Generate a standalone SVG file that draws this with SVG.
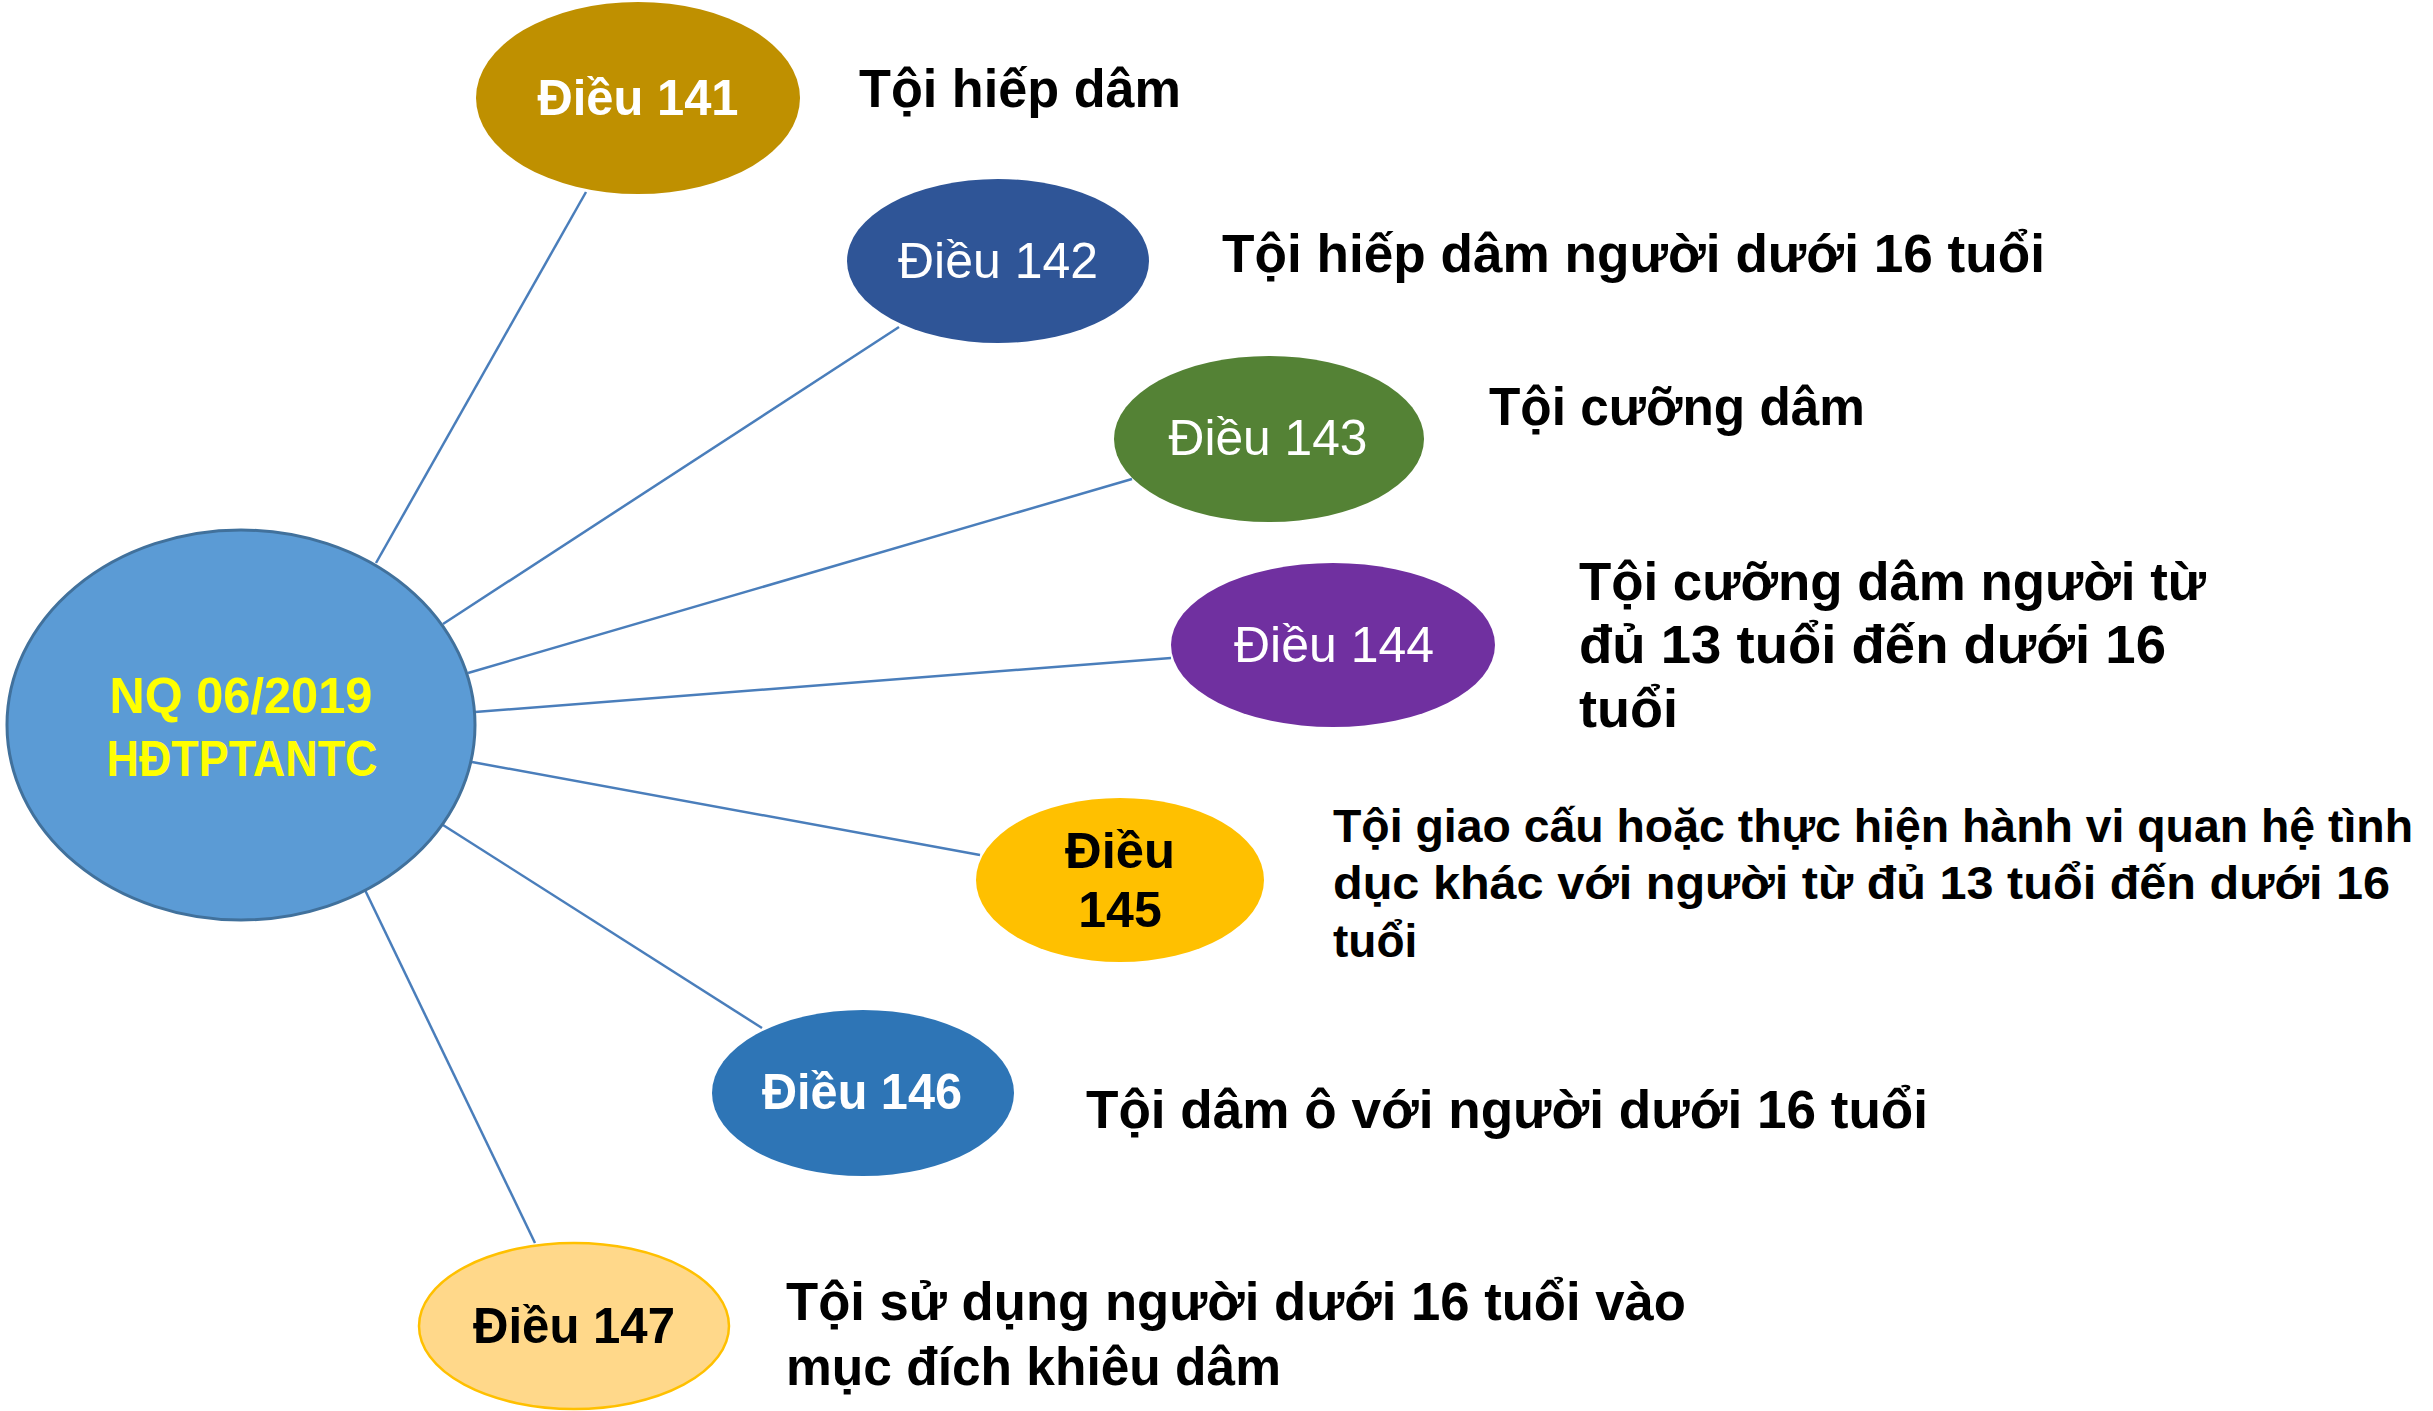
<svg xmlns="http://www.w3.org/2000/svg" width="2433" height="1411" viewBox="0 0 2433 1411">
<style>
.lbl{font-family:"Liberation Sans","Noto Sans",sans-serif;font-weight:bold;font-size:54px;fill:#000}
.lbl2{font-family:"Liberation Sans","Noto Sans",sans-serif;font-weight:bold;font-size:46px;fill:#000}
.nt{font-family:"Liberation Sans","Noto Sans",sans-serif;font-size:50px;text-anchor:middle}
.b{font-weight:bold}
.w{fill:#fff}
.k{fill:#000}
.conn line{stroke:#4A7EBB;stroke-width:2.5}
</style>
<rect width="2433" height="1411" fill="#fff"/>
<g id="connectors" class="conn">
<line x1="376" y1="563" x2="586" y2="192"/>
<line x1="443" y1="624" x2="899" y2="327"/>
<line x1="468" y1="673" x2="1132" y2="479"/>
<line x1="475" y1="712" x2="1171" y2="658"/>
<line x1="472" y1="762" x2="980" y2="855"/>
<line x1="443" y1="825" x2="762" y2="1028"/>
<line x1="365" y1="890" x2="535" y2="1243"/>
</g>
<g id="center">
<ellipse cx="241" cy="725" rx="234" ry="195" fill="#5B9BD5" stroke="#41719C" stroke-width="3"/>
<text x="241" y="713" text-anchor="middle" font-family="Liberation Sans, Noto Sans, sans-serif" font-weight="bold" font-size="50" fill="#FFFF00" textLength="263" lengthAdjust="spacingAndGlyphs">NQ 06/2019</text>
<text x="242" y="776" text-anchor="middle" font-family="Liberation Sans, Noto Sans, sans-serif" font-weight="bold" font-size="50" fill="#FFFF00" textLength="271" lengthAdjust="spacingAndGlyphs">HĐTPTANTC</text>
</g>
<g id="n141">
<ellipse cx="638" cy="98" rx="162" ry="96" fill="#BF9000"/>
<text class="nt b w" x="638" y="115" textLength="201" lengthAdjust="spacingAndGlyphs">Điều 141</text>
<text class="lbl" x="859" y="107" textLength="322" lengthAdjust="spacingAndGlyphs">Tội hiếp dâm</text>
</g>
<g id="n142">
<ellipse cx="998" cy="261" rx="151" ry="82" fill="#2F5597"/>
<text class="nt w" x="998" y="278" textLength="200" lengthAdjust="spacingAndGlyphs">Điều 142</text>
<text class="lbl" x="1222" y="272" textLength="823" lengthAdjust="spacingAndGlyphs">Tội hiếp dâm người dưới 16 tuổi</text>
</g>
<g id="n143">
<ellipse cx="1269" cy="439" rx="155" ry="83" fill="#548235"/>
<text class="nt w" x="1268" y="455" textLength="199" lengthAdjust="spacingAndGlyphs">Điều 143</text>
<text class="lbl" x="1489" y="425" textLength="376" lengthAdjust="spacingAndGlyphs">Tội cưỡng dâm</text>
</g>
<g id="n144">
<ellipse cx="1333" cy="645" rx="162" ry="82" fill="#7030A0"/>
<text class="nt w" x="1334" y="662" textLength="200" lengthAdjust="spacingAndGlyphs">Điều 144</text>
<text class="lbl" x="1579" y="600" textLength="627" lengthAdjust="spacingAndGlyphs">Tội cưỡng dâm người từ</text>
<text class="lbl" x="1579" y="663" textLength="587" lengthAdjust="spacingAndGlyphs">đủ 13 tuổi đến dưới 16</text>
<text class="lbl" x="1579" y="727">tuổi</text>
</g>
<g id="n145">
<ellipse cx="1120" cy="880" rx="144" ry="82" fill="#FFC000"/>
<text class="nt b k" x="1120" y="868" textLength="110" lengthAdjust="spacingAndGlyphs">Điều</text>
<text class="nt b k" x="1120" y="927">145</text>
<text class="lbl2" x="1333" y="842" textLength="1080" lengthAdjust="spacingAndGlyphs">Tội giao cấu hoặc thực hiện hành vi quan hệ tình</text>
<text class="lbl2" x="1333" y="899" textLength="1057" lengthAdjust="spacingAndGlyphs">dục khác với người từ đủ 13 tuổi đến dưới 16</text>
<text class="lbl2" x="1333" y="957">tuổi</text>
</g>
<g id="n146">
<ellipse cx="863" cy="1093" rx="151" ry="83" fill="#2E75B6"/>
<text class="nt b w" x="862" y="1109" textLength="200" lengthAdjust="spacingAndGlyphs">Điều 146</text>
<text class="lbl" x="1086" y="1128" textLength="842" lengthAdjust="spacingAndGlyphs">Tội dâm ô với người dưới 16 tuổi</text>
</g>
<g id="n147">
<ellipse cx="574" cy="1326" rx="155" ry="83" fill="#FFD88A" stroke="#FFC000" stroke-width="2.5"/>
<text class="nt b k" x="574" y="1343" textLength="202" lengthAdjust="spacingAndGlyphs">Điều 147</text>
<text class="lbl" x="786" y="1320" textLength="900" lengthAdjust="spacingAndGlyphs">Tội sử dụng người dưới 16 tuổi vào</text>
<text class="lbl" x="786" y="1385" textLength="495" lengthAdjust="spacingAndGlyphs">mục đích khiêu dâm</text>
</g>
</svg>
